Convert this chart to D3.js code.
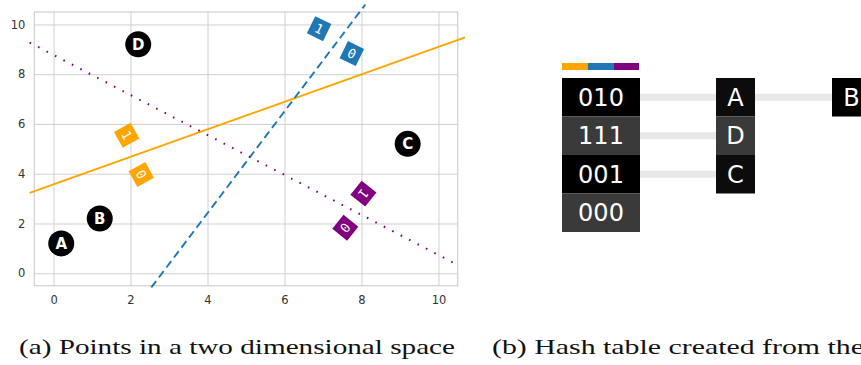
<!DOCTYPE html>
<html>
<head>
<meta charset="utf-8">
<script src="https://cdn.jsdelivr.net/npm/d3@7"></script>
<style>
  body { margin: 0; background: #fff; }
  svg { display: block; }
</style>
</head>
<body>
<svg width="861" height="365"></svg>
<script>
// ---- data ----
var xTicks = [0, 2, 4, 6, 8, 10];
var yTicks = [0, 2, 4, 6, 8, 10];

var pointNames = ["A", "B", "C", "D"];
var pointX = [0.2, 1.2, 9.2, 2.2];
var pointY = [1.2, 2.2, 5.2, 9.2];

// hyperplanes: endpoints in data space
var planeNames = ["orange", "blue", "purple"];
var planeX0 = [-0.62, 2.54, -0.62];
var planeY0 = [3.23, -0.57, 9.27];
var planeX1 = [10.69, 8.1, 10.52];
var planeY1 = [9.48, 10.8, 0.32];

// side labels ("0" / "1") for each plane
var sideLabel = ["1", "0", "1", "0", "1", "0"];
var sidePlane = [0, 0, 1, 1, 2, 2];
var sideX = [1.9, 2.28, 6.9, 7.75, 8.05, 7.58];
var sideY = [5.55, 3.97, 9.83, 8.83, 3.2, 1.83];

// hash table
var hashKeys = ["010", "111", "001", "000"];
var buckets = [["A", "B"], ["D"], ["C"], []];

var captions = ["(a) Points in a two dimensional space", "(b) Hash table created from the"];

// ---- styles ----
var planeColors = ["#ffa500", "#1f77b4", "#800080"];
var planeDash = [null, "8,4.5", "1.6,7.9"];

var svg = d3.select("svg");

var margin = { top: 12, left: 34.3 },
    w = 457.7 - margin.left,
    h = 285.7 - margin.top;

var xScale = d3.scaleLinear().domain([-0.5, 10.5]).range([0, w]);
var yScale = d3.scaleLinear().domain([-0.5, 10.5]).range([h, 0]);

var plot = svg.append("g")
    .attr("transform", "translate(" + margin.left + "," + margin.top + ")");

// grid + tick labels
var xAxis = d3.axisBottom(xScale).tickValues(xTicks).tickSize(-h).tickPadding(10);
var yAxis = d3.axisLeft(yScale).tickValues(yTicks).tickSize(-w).tickPadding(9);

plot.append("g")
    .attr("transform", "translate(0," + h + ")")
    .call(xAxis);
plot.append("g")
    .call(yAxis);

plot.selectAll(".domain").remove();
plot.selectAll(".tick line")
    .attr("stroke", "#d0d0d0")
    .attr("stroke-width", 1);
plot.selectAll(".tick text")
    .attr("fill", "#333")
    .style("font-family", "DejaVu Sans")
    .style("font-size", "11.5px");

// spines
plot.append("rect")
    .attr("x", 0).attr("y", 0)
    .attr("width", w).attr("height", h)
    .attr("fill", "none")
    .attr("stroke", "#d0d0d0")
    .attr("stroke-width", 1.2);

// hyperplanes
plot.selectAll("line.plane")
    .data(planeNames)
    .enter().append("line")
    .attr("class", "plane")
    .attr("x1", function(d, i) { return xScale(planeX0[i]); })
    .attr("y1", function(d, i) { return yScale(planeY0[i]); })
    .attr("x2", function(d, i) { return xScale(planeX1[i]); })
    .attr("y2", function(d, i) { return yScale(planeY1[i]); })
    .attr("stroke", function(d, i) { return planeColors[i]; })
    .attr("stroke-width", function(d, i) { return i == 2 ? 2 : 1.9; })
    .attr("stroke-dasharray", function(d, i) { return planeDash[i]; });

// side labels, rotated along the plane direction
function planeAngle(p) {
    var dx = planeX1[p] - planeX0[p], dy = planeY1[p] - planeY0[p];
    return Math.atan2(dy, dx) * 180 / Math.PI;
}

var labels = plot.selectAll("g.side")
    .data(sideLabel)
    .enter().append("g")
    .attr("class", "side")
    .attr("transform", function(d, i) {
        return "translate(" + xScale(sideX[i]) + "," + yScale(sideY[i]) + ") rotate(" + (90 - planeAngle(sidePlane[i])) + ")";
    });

labels.append("rect")
    .attr("x", -9).attr("y", -9.5)
    .attr("width", 18).attr("height", 19)
    .attr("fill", function(d, i) { return planeColors[sidePlane[i]]; });

labels.append("text")
    .attr("text-anchor", "middle")
    .attr("dy", "0.36em")
    .attr("fill", "#fff")
    .style("font-family", "DejaVu Sans Mono")
    .style("font-size", "13px")
    .text(function(d) { return d; });

// points
var points = plot.selectAll("g.point")
    .data(pointNames)
    .enter().append("g")
    .attr("class", "point")
    .attr("transform", function(d, i) {
        return "translate(" + xScale(pointX[i]) + "," + yScale(pointY[i]) + ")";
    });

points.append("circle")
    .attr("r", 13)
    .attr("fill", "#000");

points.append("text")
    .attr("text-anchor", "middle")
    .attr("dy", "0.36em")
    .attr("fill", "#fff")
    .style("font-family", "DejaVu Sans")
    .style("font-weight", "bold")
    .style("font-size", "15px")
    .text(function(d) { return d; });

// ---- hash table ----
var rowScale = d3.scaleBand()
    .domain(d3.range(hashKeys.length))
    .range([78, 232]);

var colScale = d3.scaleOrdinal()
    .domain([0, 1, 2])
    .range([562, 716, 832]);

var keyW = 78, nodeW = 39;
var rowFill = ["#000", "#3a3a3a"];

// colour bar above keys
var barScale = d3.scaleBand()
    .domain(d3.range(planeNames.length))
    .range([562, 639]);

svg.selectAll("rect.bar")
    .data(planeNames)
    .enter().append("rect")
    .attr("class", "bar")
    .attr("x", function(d, i) { return barScale(i); })
    .attr("y", 63)
    .attr("width", barScale.bandwidth())
    .attr("height", 7)
    .attr("fill", function(d, i) { return planeColors[i]; });

// connectors (drawn first so the cells sit on top)
buckets.forEach(function(b, r) {
    b.forEach(function(n, j) {
        var x0 = j == 0 ? colScale(0) + keyW : colScale(j) + nodeW;
        svg.append("rect")
            .attr("x", x0)
            .attr("y", rowScale(r) + rowScale.bandwidth() / 2 - 3.5)
            .attr("width", colScale(j + 1) - x0)
            .attr("height", 7)
            .attr("fill", "#e8e8e8");
    });
});

// key cells
var keys = svg.selectAll("g.key")
    .data(hashKeys)
    .enter().append("g")
    .attr("class", "key");

keys.append("rect")
    .attr("x", colScale(0))
    .attr("y", function(d, i) { return rowScale(i); })
    .attr("width", keyW)
    .attr("height", rowScale.bandwidth())
    .attr("fill", function(d, i) { return rowFill[i % 2]; });

keys.append("text")
    .attr("x", colScale(0) + keyW / 2)
    .attr("y", function(d, i) { return rowScale(i) + rowScale.bandwidth() / 2; })
    .attr("dy", "0.36em")
    .attr("text-anchor", "middle")
    .attr("fill", "#fff")
    .style("font-family", "DejaVu Sans")
    .style("font-size", "24px")
    .text(function(d) { return d; });

// bucket nodes
buckets.forEach(function(b, r) {
    b.forEach(function(n, j) {
        var g = svg.append("g");
        g.append("rect")
            .attr("x", colScale(j + 1))
            .attr("y", rowScale(r))
            .attr("width", nodeW)
            .attr("height", rowScale.bandwidth())
            .attr("fill", j == 0 ? (r % 2 ? "#3a3a3a" : "#0c0c0c") : "#000");
        g.append("text")
            .attr("x", colScale(j + 1) + nodeW / 2)
            .attr("y", rowScale(r) + rowScale.bandwidth() / 2)
            .attr("dy", "0.36em")
            .attr("text-anchor", "middle")
            .attr("fill", "#fff")
            .style("font-family", "DejaVu Sans")
            .style("font-size", "24px")
            .text(n);
    });
});

// captions
svg.selectAll("text.caption")
    .data(captions)
    .enter().append("text")
    .attr("class", "caption")
    .attr("x", function(d, i) { return [19, 492][i]; })
    .attr("y", 354)
    .attr("textLength", function(d, i) { return [436, 372][i]; })
    .attr("lengthAdjust", "spacingAndGlyphs")
    .attr("fill", "#111")
    .style("font-family", "Liberation Serif")
    .style("font-size", "22px")
    .text(function(d) { return d; });
</script>
</body>
</html>
